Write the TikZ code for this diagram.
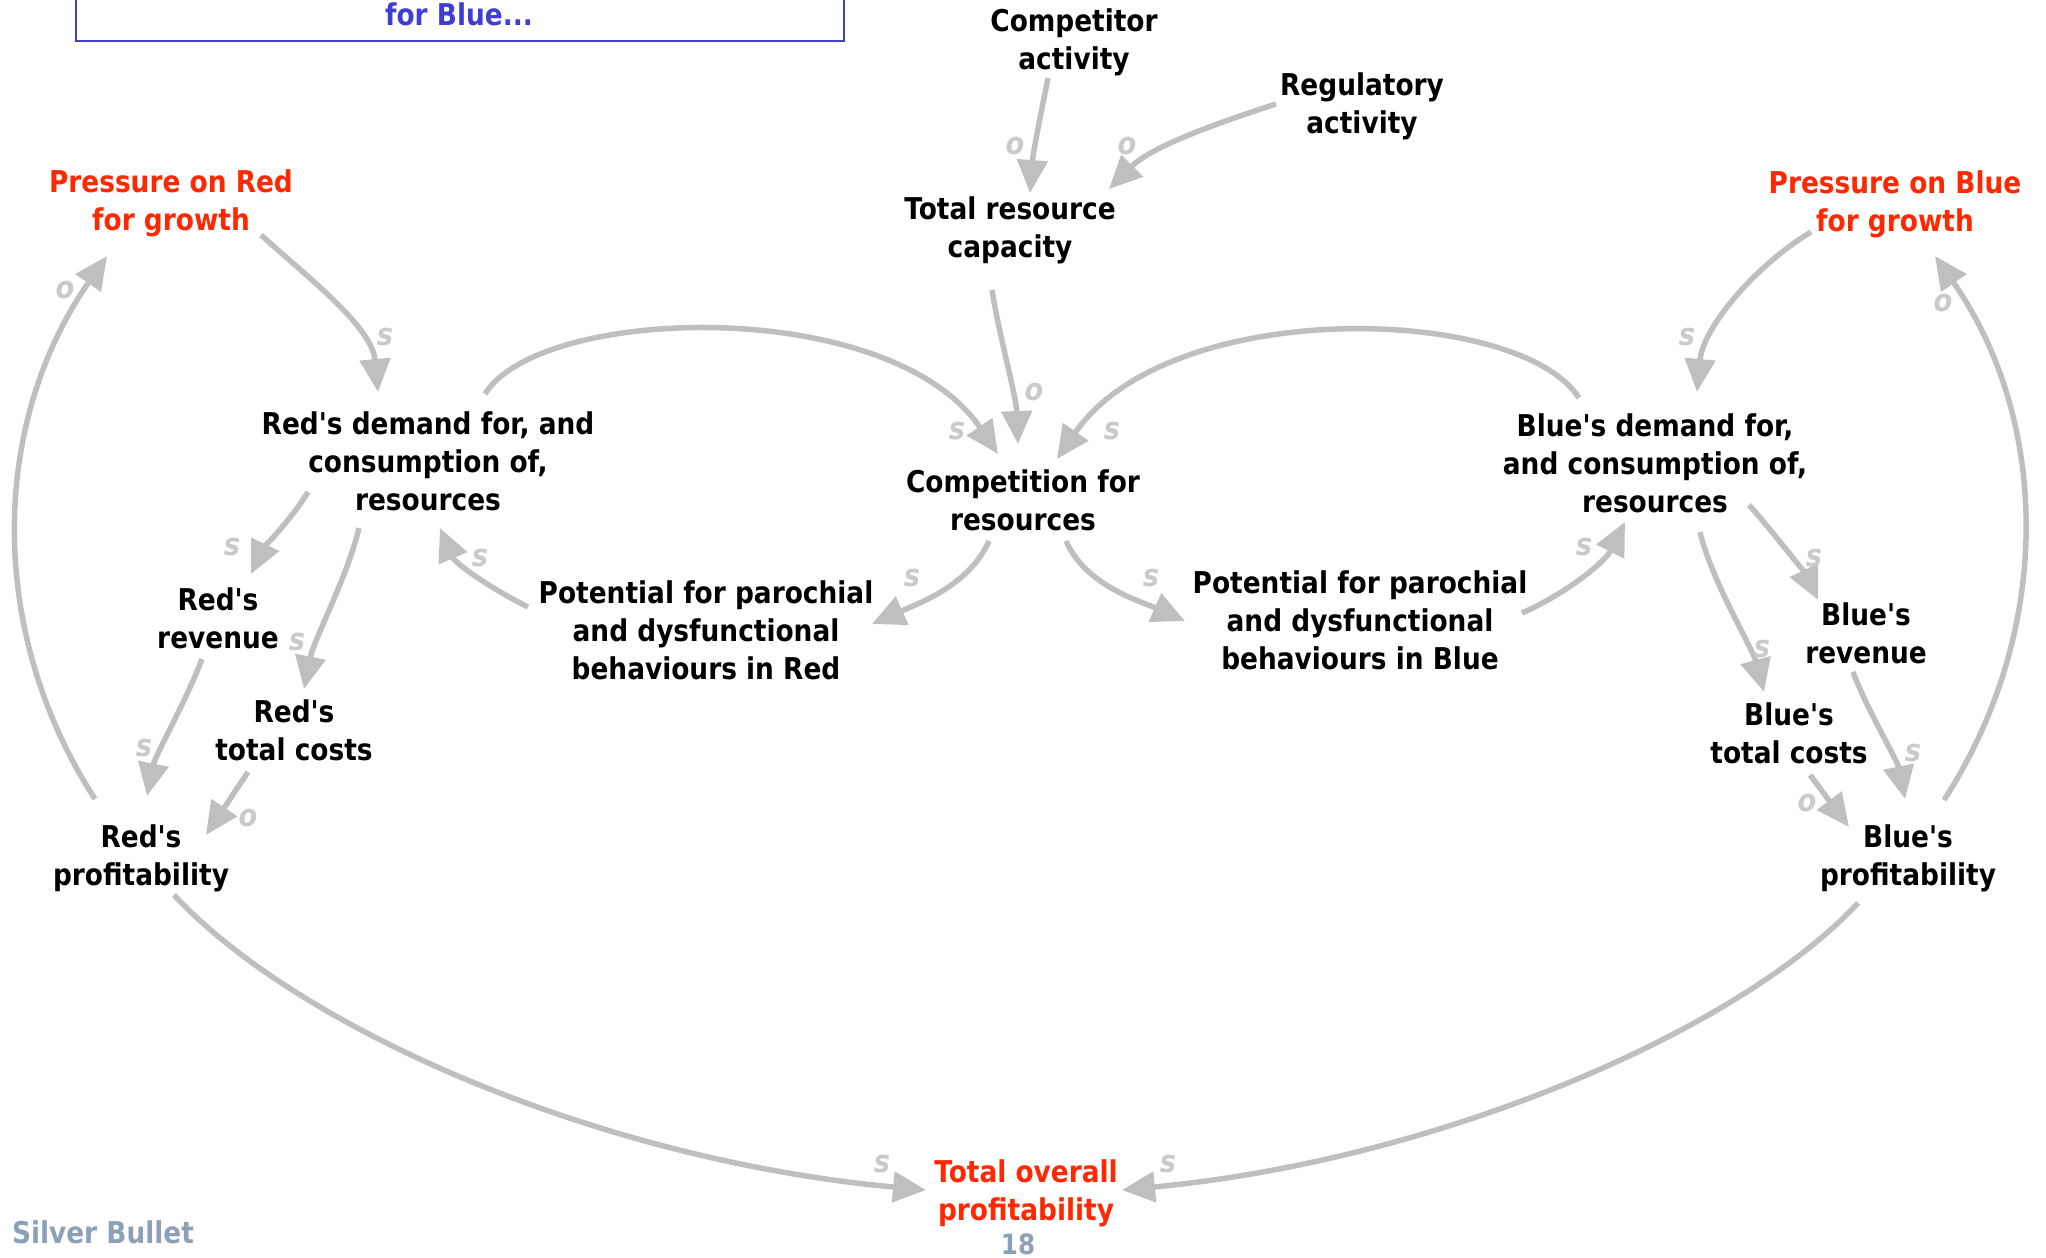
\documentclass[tikz,border=0pt]{standalone}
\usepackage{fontspec}
\setmainfont{DejaVu Sans}[Ligatures=TeXOff, FakeStretch=0.88]
\usetikzlibrary{arrows.meta,calc}
\definecolor{linkgray}{RGB}{190,192,192}
\definecolor{polgray}{RGB}{202,202,202}
\definecolor{keyred}{RGB}{255,40,0}
\definecolor{noteblue}{RGB}{62,62,212}
\definecolor{footgray}{RGB}{140,160,184}
\begin{document}
\begin{tikzpicture}[x=1pt,y=-1pt,
  var/.style={font=\bfseries\fontsize{30}{38}\selectfont, align=center, inner sep=0pt},
  key/.style={var, text=keyred},
  pol/.style={font=\bfseries\itshape\fontsize{31}{38}\selectfont, text=polgray, inner sep=0pt},
  foot/.style={font=\bfseries\fontsize{30}{38}\selectfont, text=footgray, inner sep=0pt},
  link/.style={draw=linkgray, line width=5.5pt, -{Triangle[length=33pt,width=30pt]}}]
\useasboundingbox (0,0) rectangle (2046,1258);
\clip (0,0) rectangle (2046,1258);

% note box running off the top edge
\node[draw=noteblue, line width=2.5pt, minimum width=768pt, minimum height=120pt,
      anchor=south, inner sep=0pt] (notebox) at (460,42) {};
\node[var, text=noteblue] (note) at (459,14) {for Blue...};

% variables
\node[var] (comp) at (1074,42) {Competitor\\activity};
\node[var] (reg) at (1362,106) {Regulatory\\activity};
\node[var] (trc) at (1010,230) {Total resource\\capacity};
\node[key] (pred) at (171,203) {Pressure on Red\\for growth};
\node[key] (pblue) at (1895,204) {Pressure on Blue\\for growth};
\node[var] (rdem) at (428,461) {Red's demand for, and\\consumption of,\\resources};
\node[var] (compet) at (1023,500) {Competition for\\resources};
\node[var] (bdem) at (1655,463) {Blue's demand for,\\and consumption of,\\resources};
\node[var] (rrev) at (218,618) {Red's\\revenue};
\node[var] (rcost) at (294,730) {Red's\\total costs};
\node[var] (rprof) at (141,858) {Red's\\profitability};
\node[var] (potr) at (706,630) {Potential for parochial\\and dysfunctional\\behaviours in Red};
\node[var] (potb) at (1360,620) {Potential for parochial\\and dysfunctional\\behaviours in Blue};
\node[var] (brev) at (1866,633) {Blue's\\revenue};
\node[var] (bcost) at (1789,733) {Blue's\\total costs};
\node[var] (bprof) at (1908,858) {Blue's\\profitability};
\node[key] (total) at (1026,1193) {Total overall\\profitability};

% footer
\node[foot] (brand) at (103,1232) {Silver Bullet};
\node[foot, font=\bfseries\fontsize{28}{34}\selectfont] (pageno) at (1018,1244) {18};

% causal links
\draw[link] ($(comp)+(-26,36)$) .. controls +(-8,40) and +(3,-40) .. ($(trc)+(20,-37)$);
\draw[link] ($(reg)+(-86,-2)$) .. controls +(-62,20) and +(42,-42) .. ($(trc)+(99,-41)$);
\draw[link] ($(trc)+(-18,60)$) .. controls +(8,50) and +(-2,-50) .. ($(compet)+(-5,-56)$);
\draw[link] ($(rdem)+(57,-67)$) .. controls +(55,-89) and +(-108,-159) .. ($(compet)+(-25,-46)$);
\draw[link] ($(bdem)+(-76,-65)$) .. controls +(-59,-93) and +(113,-164) .. ($(compet)+(34,-41)$);
\draw[link] ($(pred)+(90,32)$) .. controls +(50,45) and +(-6,-65) .. ($(rdem)+(-50,-69)$);
\draw[link] ($(rprof)+(-46,-59)$) .. controls +(-110,-170) and +(-115,165) .. ($(pred)+(-64,53)$);
\draw[link] ($(rdem)+(-120,31)$) .. controls +(-15,25) and +(12,-25) .. ($(rrev)+(33,-44)$);
\draw[link] ($(rdem)+(-69,67)$) .. controls +(-12,50) and +(10,-50) .. ($(rcost)+(10,-41)$);
\draw[link] ($(rrev)+(-16,41)$) .. controls +(-15,40) and +(8,-40) .. ($(rprof)+(6,-62)$);
\draw[link] ($(rcost)+(-46,42)$) .. controls +(-12,18) and +(12,-18) .. ($(rprof)+(65,-23)$);
\draw[link] ($(potr)+(-178,-23)$) .. controls +(-40,-20) and +(15,35) .. ($(rdem)+(12,67)$);
\draw[link] ($(compet)+(-34,41)$) .. controls +(-20,45) and +(45,-20) .. ($(potr)+(166,-6)$);
\draw[link] ($(compet)+(43,41)$) .. controls +(20,45) and +(-45,-20) .. ($(potb)+(-175,1)$);
\draw[link] ($(potb)+(162,-7)$) .. controls +(45,-20) and +(-20,40) .. ($(bdem)+(-30,59)$);
\draw[link] ($(pblue)+(-84,28)$) .. controls +(-55,33) and +(6,-65) .. ($(bdem)+(42,-71)$);
\draw[link] ($(bprof)+(36,-58)$) .. controls +(110,-170) and +(115,165) .. ($(pblue)+(40,52)$);
\draw[link] ($(bdem)+(94,42)$) .. controls +(20,22) and +(-12,-25) .. ($(brev)+(-48,-33)$);
\draw[link] ($(bdem)+(45,69)$) .. controls +(12,50) and +(-12,-45) .. ($(bcost)+(-25,-41)$);
\draw[link] ($(brev)+(-13,39)$) .. controls +(15,40) and +(-8,-40) .. ($(bprof)+(-3,-59)$);
\draw[link] ($(bcost)+(21,42)$) .. controls +(12,16) and +(-12,-16) .. ($(bprof)+(-59,-31)$);
\draw[link] ($(rprof)+(33,37)$) .. controls +(126,135) and +(-326,-30) .. ($(total)+(-100,-3)$);
\draw[link] ($(bprof)+(-50,45)$) .. controls +(-118,127) and +(318,-30) .. ($(total)+(96,-3)$);

% link polarities
\node[pol] (p1) at (1015,146) {o};
\node[pol] (p2) at (1127,146) {o};
\node[pol] (p3) at (1034,392) {o};
\node[pol] (p4) at (957,431) {s};
\node[pol] (p5) at (1112,431) {s};
\node[pol] (p6) at (385,337) {s};
\node[pol] (p7) at (65,290) {o};
\node[pol] (p8) at (232,547) {s};
\node[pol] (p9) at (297,642) {s};
\node[pol] (p10) at (144,748) {s};
\node[pol] (p11) at (248,818) {o};
\node[pol] (p12) at (480,558) {s};
\node[pol] (p13) at (912,578) {s};
\node[pol] (p14) at (1151,578) {s};
\node[pol] (p15) at (1584,547) {s};
\node[pol] (p16) at (1687,337) {s};
\node[pol] (p17) at (1943,303) {o};
\node[pol] (p18) at (1814,558) {s};
\node[pol] (p19) at (1762,649) {s};
\node[pol] (p20) at (1913,753) {s};
\node[pol] (p21) at (1807,803) {o};
\node[pol] (p22) at (882,1164) {s};
\node[pol] (p23) at (1168,1164) {s};
\end{tikzpicture}
\end{document}
